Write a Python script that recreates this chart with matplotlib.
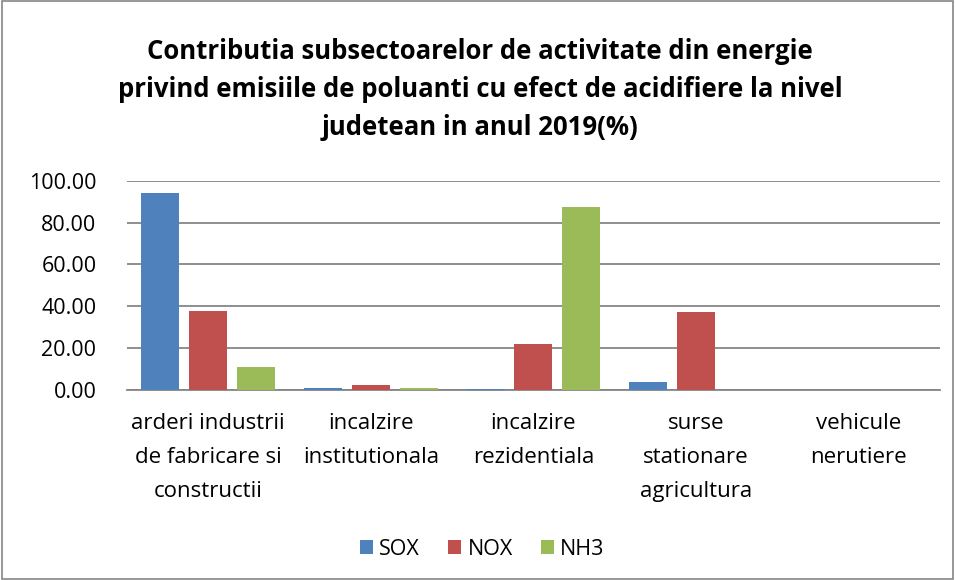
import matplotlib.pyplot as plt
import numpy as np

categories = ['arderi industrii\nde fabricare si\nconstructii', 'incalzire\ninstitutionala',
              'incalzire\nrezidentiala', 'surse\nstationare\nagricultura', 'vehicule\nnerutiere']
sox = [94.4, 1.0, 0.3, 3.5, 0.0]
nox = [37.5, 2.4, 22.0, 37.3, 0.0]
nh3 = [11.0, 0.7, 87.7, 0.0, 0.0]
series = ['SOX', 'NOX', 'NH3']
colors = ['#4F81BD', '#C0504D', '#9BBB59']

plt.rcParams['font.family'] = ['Open Sans', 'DejaVu Sans']

fig = plt.figure(figsize=(9.55, 5.8), dpi=100)
ax = fig.add_axes([0.133, 0.328, 0.851, 0.36])

x = np.arange(len(categories))
step = 0.295
for i, (vals, name, c) in enumerate(zip([sox, nox, nh3], series, colors)):
    ax.bar(x + (i - 1) * step, vals, width=0.235, color=c, linewidth=0,
           label=name, zorder=3)

ax.set_xlim(-0.5, 4.5)
ax.set_ylim(0, 100)
ax.set_yticks(np.arange(0, 101, 20))
ax.set_yticklabels(['%.2f' % v for v in np.arange(0, 101, 20)], fontsize=15.5)
ax.set_xticks(x)
ax.set_xticklabels(categories, fontsize=16, linespacing=1.8)
ax.tick_params(axis='y', length=0, pad=22)
ax.tick_params(axis='x', length=0, pad=17)
ax.grid(axis='y', color='#868686', linewidth=1.3, zorder=0)
for s in ['top', 'right', 'left']:
    ax.spines[s].set_visible(False)
ax.spines['bottom'].set_color('#868686')
ax.spines['bottom'].set_linewidth(1.3)

fig.text(0.503, 0.845, 'Contributia subsectoarelor de activitate din energie\n'
         'privind emisiile de poluanti cu efect de acidifiere la nivel\n'
         'judetean in anul 2019(%)', ha='center', va='center',
         fontsize=18.5, fontweight='bold', linespacing=1.52)

fig.legend(loc='center', bbox_to_anchor=(0.505, 0.053), ncol=3, frameon=False,
           fontsize=15.5, handlelength=0.6, handleheight=0.6, handletextpad=0.3,
           columnspacing=1.3)

fig.patches.append(plt.Rectangle((0.002, 0.002), 0.996, 0.996, transform=fig.transFigure,
                                 fill=False, edgecolor='#868686', linewidth=1.2))

fig.savefig('out.png', dpi=100)
